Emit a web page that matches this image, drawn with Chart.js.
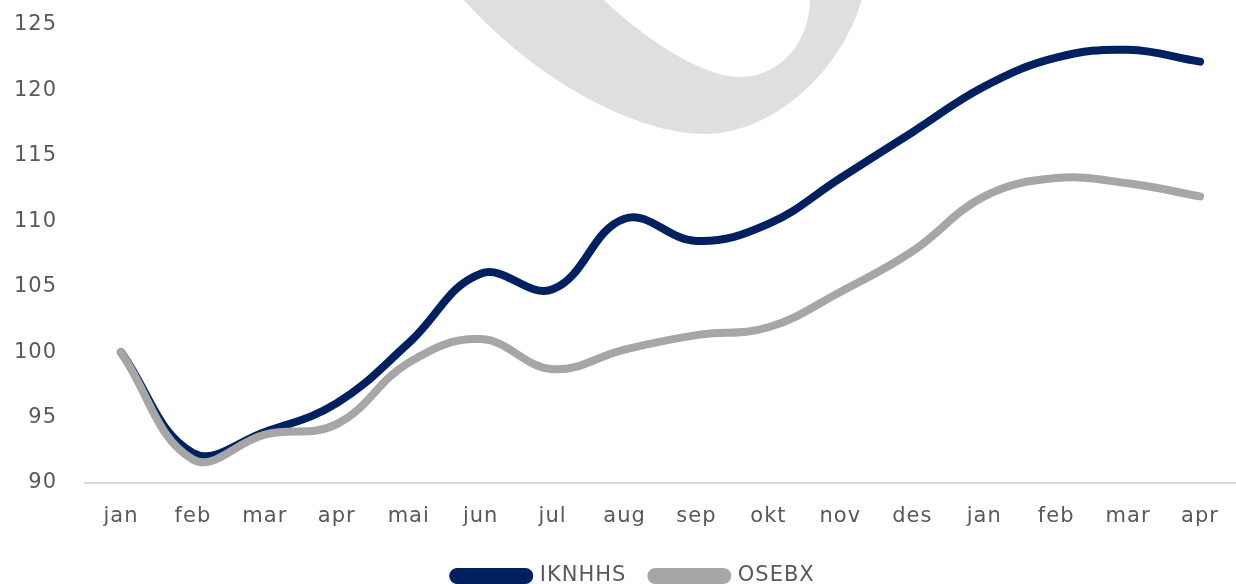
<!DOCTYPE html>
<html><head><meta charset="utf-8">
<script src="https://cdn.jsdelivr.net/npm/chart.js@4.4.1/dist/chart.umd.min.js"></script>
<style>html,body{margin:0;padding:0;background:#fff;overflow:hidden}#c{display:block}</style>
</head><body>
<canvas id="c" width="1236" height="584"></canvas>
<script>
const months = ['jan','feb','mar','apr','mai','jun','jul','aug','sep','okt','nov','des','jan','feb','mar','apr'];
const iknhhs = [100, 92.3, 93.9, 96.1, 100.7, 106.0, 104.8, 110.2, 108.5, 109.8, 113.3, 116.8, 120.3, 122.5, 123.1, 122.2];
const osebx  = [100, 91.8, 93.7, 94.5, 99.2, 101.0, 98.7, 100.2, 101.3, 101.9, 104.6, 107.7, 111.9, 113.3, 112.9, 111.9];
const yTicks = [90, 95, 100, 105, 110, 115, 120, 125];
const seriesNames = ['IKNHHS', 'OSEBX'];
const navy = '#002060', grey = '#a6a6a6', textCol = '#595959';

const spacing = {
  id: 'spacing',
  beforeLayout(chart){ chart.ctx.letterSpacing = '1px'; },
  beforeDraw(chart){ chart.ctx.letterSpacing = '1px'; }
};
const legendShift = {
  id: 'legendShift',
  afterLayout(chart){
    const l = chart.legend;
    l.left += 10; l.right += 10; l.top += 3; l.bottom += 3;
  }
};
const watermark = {
  id: 'watermark',
  beforeDatasetsDraw(chart){
    const c = chart.ctx;
    c.save();
    c.fillStyle = '#dfdfdf';
    c.beginPath();
    c.moveTo(463, -1);
    c.bezierCurveTo(540, 85, 640, 134, 705, 134);
    c.bezierCurveTo(770, 134, 840, 75, 862, -1);
    c.lineTo(810, -1);
    c.bezierCurveTo(810, 42, 780, 77, 740, 77);
    c.bezierCurveTo(700, 77, 640, 35, 603, -1);
    c.closePath();
    c.fill();
    c.restore();
  }
};

new Chart(document.getElementById('c'), {
  type: 'line',
  data: {
    labels: months,
    datasets: [
      { label: seriesNames[0], data: iknhhs, borderColor: navy, backgroundColor: navy, order: 1 },
      { label: seriesNames[1], data: osebx, borderColor: grey, backgroundColor: grey, order: 0 }
    ]
  },
  options: {
    responsive: false,
    animation: false,
    devicePixelRatio: 1,
    layout: { padding: { left: 12, right: 0, top: 25, bottom: -9.5 } },
    elements: {
      line: { borderWidth: 8, tension: 0.4, borderCapStyle: 'round', borderJoinStyle: 'round', fill: false },
      point: { radius: 0, hoverRadius: 0 }
    },
    datasets: { line: { clip: false } },
    scales: {
      x: {
        offset: true,
        grid: { display: false, drawTicks: false },
        border: { display: true, color: '#d9d9d9', width: 2 },
        ticks: { color: textCol, font: { family: 'DejaVu Sans', size: 21 }, padding: 21, maxRotation: 0, autoSkip: false },
        afterFit(scale){ scale.height = 54.5; scale.paddingLeft = 0; scale.paddingRight = 0; }
      },
      y: {
        min: yTicks[0], max: yTicks[yTicks.length - 1],
        grid: { display: false, drawTicks: false },
        border: { display: false },
        ticks: { stepSize: yTicks[1] - yTicks[0], color: textCol, font: { family: 'DejaVu Sans', size: 21 }, padding: 28 },
        afterFit(scale){ scale.width = 73; scale.paddingTop = 0; scale.paddingBottom = 0; }
      }
    },
    plugins: {
      tooltip: { enabled: false },
      legend: {
        position: 'bottom',
        labels: {
          color: textCol,
          font: { family: 'DejaVu Sans', size: 21 },
          boxWidth: 76, boxHeight: 8, padding: 25,
          useBorderRadius: true, borderRadius: 4,
          sort: (a, b) => a.datasetIndex - b.datasetIndex
        }
      }
    }
  },
  plugins: [spacing, legendShift, watermark]
});
</script>
</body></html>
